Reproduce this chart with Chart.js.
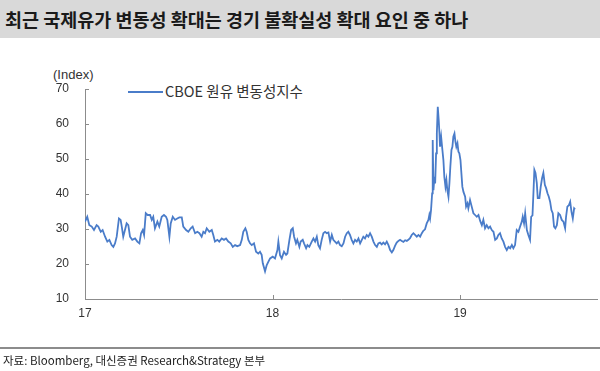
<!DOCTYPE html>
<html>
<head>
<meta charset="utf-8">
<script src="https://cdn.jsdelivr.net/npm/chart.js@4.4.1/dist/chart.umd.min.js"></script>
<style>
    body { margin: 0; width: 600px; height: 371px; background: #fff; position: relative; overflow: hidden; font-family: "Liberation Sans", Arial, sans-serif; }
    #titleBar { position: absolute; left: 0; top: 0; width: 600px; height: 38px; background: #d9d9d9; }
    #titleBar span { position: absolute; left: 5px; top: 6px; font: bold 18.5px "Noto Sans CJK KR", sans-serif; color: #1a1a1a; white-space: nowrap; }
    #unit { position: absolute; left: 53px; top: 67px; font-size: 13px; color: #333; }
    #legend { position: absolute; left: 128px; top: 80px; font: 14.5px "Noto Sans CJK KR", sans-serif; color: #333; white-space: nowrap; }
    #legend i { display: inline-block; width: 35px; height: 0; border-top: 2px solid #4a7cc9; vertical-align: middle; margin-right: 2px; position: relative; top: -1px; }
    #footer { position: absolute; left: 0; top: 347px; width: 600px; border-top: 2px solid #8c8c8c; }
    #footer span { position: absolute; left: 3px; top: 3px; font: 11.5px "Noto Sans CJK KR", sans-serif; color: #222; white-space: nowrap; }
    #chartBox { position: absolute; left: 0; top: 0; width: 600px; height: 371px; }
</style>
</head>
<body>
<div id="titleBar"><span>최근 국제유가 변동성 확대는 경기 불확실성 확대 요인 중 하나</span></div>
<div id="unit">(Index)</div>
<div id="legend"><i></i>CBOE 원유 변동성지수</div>
<div id="chartBox"><canvas id="ovxChart" width="600" height="371"></canvas></div>
<div id="footer"><span>자료: Bloomberg, 대신증권 Research&amp;Strategy 본부</span></div>
<script>
// 날짜 (연 단위 소수), 2017.0 = 17년 초
const dates = [
    2017.000, 2017.012, 2017.023, 2017.036, 2017.048, 2017.062, 2017.071, 2017.084, 2017.094, 2017.107,
    2017.119, 2017.130, 2017.142, 2017.151, 2017.160, 2017.169, 2017.181, 2017.190, 2017.196, 2017.204,
    2017.213, 2017.222, 2017.231, 2017.240, 2017.252, 2017.267, 2017.279, 2017.290, 2017.299, 2017.308,
    2017.315, 2017.324, 2017.334, 2017.347, 2017.356, 2017.364, 2017.373, 2017.386, 2017.396, 2017.409,
    2017.421, 2017.432, 2017.439, 2017.450, 2017.457, 2017.468, 2017.480, 2017.492, 2017.503, 2017.516,
    2017.524, 2017.539, 2017.551, 2017.564, 2017.574, 2017.587, 2017.599, 2017.610, 2017.622, 2017.631,
    2017.640, 2017.649, 2017.663, 2017.676, 2017.684, 2017.693, 2017.706, 2017.716, 2017.729, 2017.741,
    2017.752, 2017.764, 2017.777, 2017.788, 2017.800, 2017.812, 2017.827, 2017.836, 2017.844, 2017.855,
    2017.862, 2017.871, 2017.880, 2017.889, 2017.901, 2017.912, 2017.924, 2017.933, 2017.942, 2017.948,
    2017.960, 2017.969, 2017.978, 2017.987, 2018.001, 2018.013, 2018.026, 2018.031, 2018.040, 2018.049,
    2018.061, 2018.072, 2018.079, 2018.090, 2018.099, 2018.108, 2018.115, 2018.125, 2018.132, 2018.143,
    2018.150, 2018.161, 2018.168, 2018.179, 2018.186, 2018.196, 2018.209, 2018.218, 2018.227, 2018.236,
    2018.244, 2018.253, 2018.262, 2018.271, 2018.280, 2018.289, 2018.298, 2018.307, 2018.316, 2018.324,
    2018.333, 2018.342, 2018.351, 2018.360, 2018.369, 2018.378, 2018.387, 2018.396, 2018.404, 2018.413,
    2018.422, 2018.431, 2018.440, 2018.449, 2018.458, 2018.467, 2018.476, 2018.484, 2018.493, 2018.502,
    2018.511, 2018.520, 2018.529, 2018.538, 2018.547, 2018.556, 2018.564, 2018.573, 2018.582, 2018.591,
    2018.600, 2018.609, 2018.618, 2018.627, 2018.636, 2018.644, 2018.653, 2018.662, 2018.671, 2018.680,
    2018.689, 2018.698, 2018.707, 2018.716, 2018.724, 2018.733, 2018.742, 2018.751, 2018.760, 2018.769,
    2018.778, 2018.787, 2018.796, 2018.804, 2018.813, 2018.822, 2018.831, 2018.836, 2018.840, 2018.845,
    2018.851, 2018.854, 2018.858, 2018.863, 2018.867, 2018.872, 2018.876, 2018.881, 2018.886, 2018.890,
    2018.893, 2018.899, 2018.904, 2018.911, 2018.916, 2018.922, 2018.927, 2018.932, 2018.938, 2018.943,
    2018.948, 2018.954, 2018.959, 2018.964, 2018.970, 2018.975, 2018.980, 2018.986, 2018.991, 2018.996,
    2019.002, 2019.007, 2019.012, 2019.018, 2019.027, 2019.032, 2019.039, 2019.044, 2019.053, 2019.062,
    2019.071, 2019.080, 2019.089, 2019.098, 2019.107, 2019.116, 2019.124, 2019.133, 2019.142, 2019.151,
    2019.160, 2019.169, 2019.178, 2019.187, 2019.196, 2019.204, 2019.213, 2019.222, 2019.231, 2019.240,
    2019.249, 2019.258, 2019.267, 2019.276, 2019.284, 2019.293, 2019.302, 2019.311, 2019.320, 2019.329,
    2019.334, 2019.341, 2019.347, 2019.356, 2019.364, 2019.373, 2019.379, 2019.386, 2019.391, 2019.396,
    2019.402, 2019.409, 2019.414, 2019.423, 2019.430, 2019.437, 2019.444, 2019.452, 2019.459, 2019.466,
    2019.473, 2019.480, 2019.487, 2019.494, 2019.501, 2019.508, 2019.516, 2019.524, 2019.533, 2019.542,
    2019.551, 2019.560, 2019.565, 2019.572, 2019.580, 2019.587, 2019.594, 2019.601, 2019.608, 2019.613
];

// CBOE 원유 변동성지수 (OVX)
const crudeVol = [
    32.1, 33.5, 31.1, 30.7, 29.7, 31.1, 30.7, 29.2, 29.7, 27.8,
    26.4, 26.9, 25.4, 24.9, 25.9, 27.8, 33.0, 32.6, 30.7, 27.8,
    29.7, 31.6, 31.1, 27.8, 26.9, 27.3, 26.4, 25.9, 28.8, 29.7,
    28.3, 34.5, 34.0, 34.0, 32.6, 33.5, 30.2, 32.1, 30.7, 33.5,
    34.0, 33.5, 32.6, 27.8, 31.6, 33.5, 32.6, 33.0, 33.3, 33.3,
    30.7, 29.7, 29.2, 30.2, 30.7, 28.8, 29.2, 28.8, 27.8, 29.2,
    28.8, 30.2, 29.2, 29.7, 28.3, 26.4, 26.9, 26.4, 27.3, 26.9,
    27.3, 26.4, 25.9, 24.9, 25.4, 25.1, 25.4, 26.9, 29.2, 30.2,
    29.2, 26.9, 25.9, 25.4, 25.9, 23.5, 23.0, 23.5, 22.6, 20.2,
    17.9, 19.7, 20.7, 21.6, 22.1, 21.6, 24.0, 26.4, 22.5, 21.6,
    23.5, 22.6, 23.0, 26.9, 29.7, 30.2, 27.8, 25.9, 26.9, 24.9,
    26.4, 26.9, 25.9, 24.5, 25.4, 24.9, 26.4, 27.3, 26.4, 27.8,
    25.4, 24.5, 26.9, 28.8, 29.2, 28.8, 29.0, 26.4, 28.3, 26.9,
    26.4, 25.9, 26.4, 25.4, 25.1, 25.9, 27.8, 28.8, 29.2, 28.3,
    26.9, 25.9, 26.9, 26.4, 27.3, 25.9, 26.9, 27.8, 27.3, 28.3,
    27.8, 28.8, 27.8, 26.4, 25.4, 24.9, 25.9, 26.1, 25.6, 26.1,
    25.6, 26.4, 25.4, 24.0, 23.3, 24.0, 25.2, 26.1, 26.6, 26.9,
    26.6, 26.3, 26.8, 26.6, 26.9, 27.4, 28.3, 28.8, 28.3, 27.8,
    28.3, 27.8, 28.8, 29.5, 29.9, 31.6, 32.6, 34.0, 33.0, 35.4,
    40.2, 55.4, 41.1, 44.9, 43.0, 51.6, 57.3, 64.9, 61.1, 57.3,
    53.5, 56.3, 53.5, 49.7, 44.9, 42.1, 44.0, 41.1, 39.2, 43.0,
    47.8, 52.6, 53.5, 56.4, 57.3, 55.0, 53.5, 54.5, 52.1, 51.6,
    49.7, 45.9, 42.1, 40.6, 39.2, 36.4, 37.3, 35.9, 38.3, 36.4,
    34.5, 34.0, 33.5, 34.0, 32.3, 31.1, 32.6, 30.2, 31.1, 30.2,
    30.7, 29.7, 29.2, 26.9, 27.3, 28.3, 28.8, 27.3, 26.4, 24.9,
    24.0, 24.9, 24.5, 25.4, 24.5, 25.4, 29.7, 29.2, 30.7, 32.1,
    33.5, 31.6, 34.5, 29.7, 28.3, 26.9, 33.5, 33.9, 40.2, 46.9,
    46.0, 43.1, 38.8, 38.8, 42.1, 44.5, 46.0, 42.6, 41.6, 40.2,
    39.2, 37.8, 35.4, 34.5, 30.7, 30.2, 31.1, 34.5, 34.0, 32.6,
    32.1, 30.2, 33.5, 36.4, 36.8, 37.8, 34.9, 33.0, 35.9, 35.6
];

// 축 눈금
const xTickYears = [2017, 2018, 2019];
const xTickLabels = ['17', '18', '19'];
const xMin = 2017, xMax = 2019.73;
const yMin = 10, yMax = 70, yStep = 10;

const lineColor = '#4a7cc9';
const axisColor = '#8c8c8c';

// 축 안쪽으로 짧은 눈금 표시
const innerTicks = {
    id: 'innerTicks',
    afterDatasetsDraw(chart) {
        const { ctx, chartArea, scales } = chart;
        ctx.save();
        ctx.strokeStyle = axisColor;
        ctx.lineWidth = 1;
        ctx.beginPath();
        scales.y.ticks.forEach(function(t) {
            const py = Math.round(scales.y.getPixelForValue(t.value)) + 0.5;
            ctx.moveTo(chartArea.left, py);
            ctx.lineTo(chartArea.left + 4, py);
        });
        scales.x.ticks.forEach(function(t) {
            const px = Math.round(scales.x.getPixelForValue(t.value)) + 0.5;
            ctx.moveTo(px, chartArea.bottom);
            ctx.lineTo(px, chartArea.bottom - 4);
        });
        ctx.stroke();
        ctx.restore();
    }
};

var ctx = document.getElementById('ovxChart').getContext('2d');
var ovxChart = new Chart(ctx, {
    type: 'line',
    data: {
        datasets: [{
            label: 'CBOE 원유 변동성지수',
            data: dates.map(function(d, i) { return { x: d, y: crudeVol[i] }; }),
            borderColor: lineColor,
            borderWidth: 1.8,
            pointRadius: 0,
            tension: 0,
            fill: false
        }]
    },
    options: {
        responsive: false,
        animation: false,
        layout: { padding: { top: 89, left: 0, right: 3, bottom: 50 } },
        plugins: {
            legend: { display: false },
            tooltip: { enabled: false }
        },
        scales: {
            x: {
                type: 'linear',
                min: xMin,
                max: xMax,
                grid: { display: false, drawTicks: false },
                border: { color: axisColor, width: 1 },
                afterBuildTicks: function(scale) {
                    scale.ticks = xTickYears.map(function(v) { return { value: v }; });
                },
                afterFit: function(scale) { scale.height = 22; },
                ticks: {
                    padding: 7,
                    color: '#333',
                    font: { family: 'Liberation Sans', size: 12 },
                    maxRotation: 0,
                    callback: function(v) { return xTickLabels[xTickYears.indexOf(v)]; }
                }
            },
            y: {
                min: yMin,
                max: yMax,
                grid: { display: false, drawTicks: false },
                border: { color: axisColor, width: 1 },
                afterFit: function(scale) { scale.width = 85; },
                ticks: {
                    stepSize: yStep,
                    padding: 16,
                    color: '#333',
                    font: { family: 'Liberation Sans', size: 12 }
                }
            }
        }
    },
    plugins: [innerTicks]
});
</script>
</body>
</html>
